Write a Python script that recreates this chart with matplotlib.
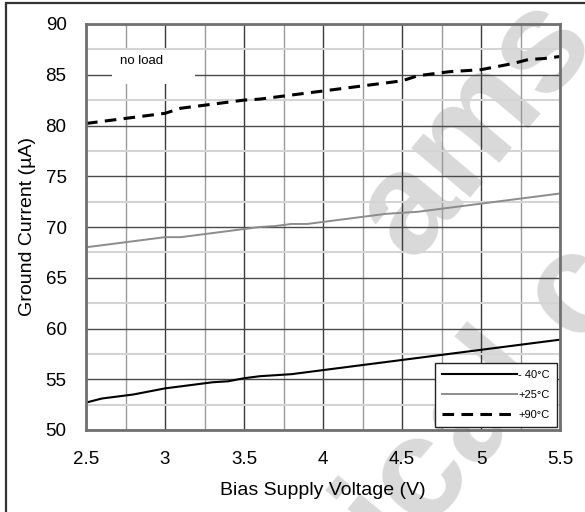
import matplotlib
matplotlib.use("Agg")
import matplotlib.pyplot as plt
from matplotlib.patches import Rectangle

plt.rcParams["font.family"] = ["Liberation Sans", "DejaVu Sans"]

volts = [2.5, 2.6, 2.7, 2.8, 2.9, 3.0, 3.1, 3.2, 3.3, 3.4, 3.5,
         3.6, 3.7, 3.8, 3.9, 4.0, 4.1, 4.2, 4.3, 4.4, 4.5,
         4.6, 4.7, 4.8, 4.9, 5.0, 5.1, 5.2, 5.3, 5.4, 5.5]

# ground current in uA
cold = [52.7, 53.1, 53.3, 53.5, 53.8, 54.1, 54.3, 54.5, 54.7, 54.8, 55.1,
        55.3, 55.4, 55.5, 55.7, 55.9, 56.1, 56.3, 56.5, 56.7, 56.9,
        57.1, 57.3, 57.5, 57.7, 57.9, 58.1, 58.3, 58.5, 58.7, 58.9]
room = [68.0, 68.2, 68.4, 68.6, 68.8, 69.0, 69.0, 69.2, 69.4, 69.6, 69.8,
        70.0, 70.1, 70.3, 70.3, 70.5, 70.7, 70.9, 71.1, 71.3, 71.4,
        71.5, 71.7, 71.9, 72.1, 72.3, 72.5, 72.7, 72.9, 73.1, 73.3]
hot = [80.2, 80.4, 80.6, 80.8, 81.0, 81.2, 81.7, 81.9, 82.1, 82.3, 82.5,
       82.6, 82.8, 83.0, 83.2, 83.4, 83.6, 83.8, 84.0, 84.2, 84.4,
       84.9, 85.1, 85.3, 85.4, 85.5, 85.8, 86.1, 86.5, 86.6, 86.8]

labels = ["- 40°C", "+25°C", "+90°C"]
xticks = [2.5, 3, 3.5, 4, 4.5, 5, 5.5]
xticklabels = ["2.5", "3", "3.5", "4", "4.5", "5", "5.5"]
yticks = [50, 55, 60, 65, 70, 75, 80, 85, 90]

fig = plt.figure(figsize=(5.85, 5.12), dpi=100)
ax = fig.add_axes([86 / 585, 1 - 430 / 512, 474 / 585, 406 / 512])
ax.set_facecolor("none")

# watermark behind everything
wm = dict(color="#d9d9d9", fontsize=104, fontweight="bold", rotation=50,
          rotation_mode="anchor", ha="left", va="baseline", zorder=-5)
fig.text(412 / 585, 1 - 262 / 512, "ams", **wm)
fig.text(152 / 585, 1 - 860 / 512, "technical content", **wm)

# outer frame
fig.patches.append(Rectangle((6 / 585, -0.1), 1.2, 1 - 3 / 512 + 0.1,
                             transform=fig.transFigure, fill=False,
                             ec="#333333", lw=1.6))

ax.set_xlim(2.5, 5.5)
ax.set_ylim(50, 90)
ax.set_xticks(xticks)
ax.set_xticklabels(xticklabels)
ax.set_yticks(yticks)
ax.set_xticks([2.75, 3.25, 3.75, 4.25, 4.75, 5.25], minor=True)
ax.set_yticks([52.5, 57.5, 62.5, 67.5, 72.5, 77.5, 82.5, 87.5], minor=True)
ax.set_axisbelow(True)
ax.grid(axis="x", which="major", color="#3a3a3a", lw=1.0)
ax.grid(axis="x", which="minor", color="#999999", lw=1.0)
ax.grid(axis="y", which="major", color="#4a4a4a", lw=1.0)
ax.grid(axis="y", which="minor", color="#d4d4d4", lw=1.5)
ax.tick_params(which="both", length=0, labelsize=13.5, pad=15)
ax.tick_params(axis="y", pad=14)
for s in ax.spines.values():
    s.set_color("#707070")
    s.set_linewidth(2)

ax.plot(volts, cold, color="black", lw=1.5, label=labels[0])
ax.plot(volts, room, color="#8c8c8c", lw=1.4, label=labels[1])
ax.plot(volts, hot, color="black", lw=2.2, dashes=(3.8, 2.4), label=labels[2])

ax.set_xlabel("Bias Supply Voltage (V)", fontsize=14, labelpad=10)
ax.set_ylabel("Ground Current (µA)", fontsize=14, labelpad=7)

ax.add_patch(Rectangle((26 / 474, 1 - 60 / 406), 83 / 474, 34 / 406,
                       transform=ax.transAxes, fc="white", ec="none", zorder=3))
ax.text(34 / 474, 1 - 37 / 406, "no load", transform=ax.transAxes,
        fontsize=9.5, va="center", zorder=4)

leg = ax.legend(loc="lower right", fontsize=8, handlelength=6.8,
                handletextpad=0.1, borderaxespad=0.3, fancybox=False,
                framealpha=1, edgecolor="#222222", labelspacing=0.9,
                borderpad=0.6)
leg.get_frame().set_linewidth(1.0)

fig.savefig("out.png", dpi=100)
